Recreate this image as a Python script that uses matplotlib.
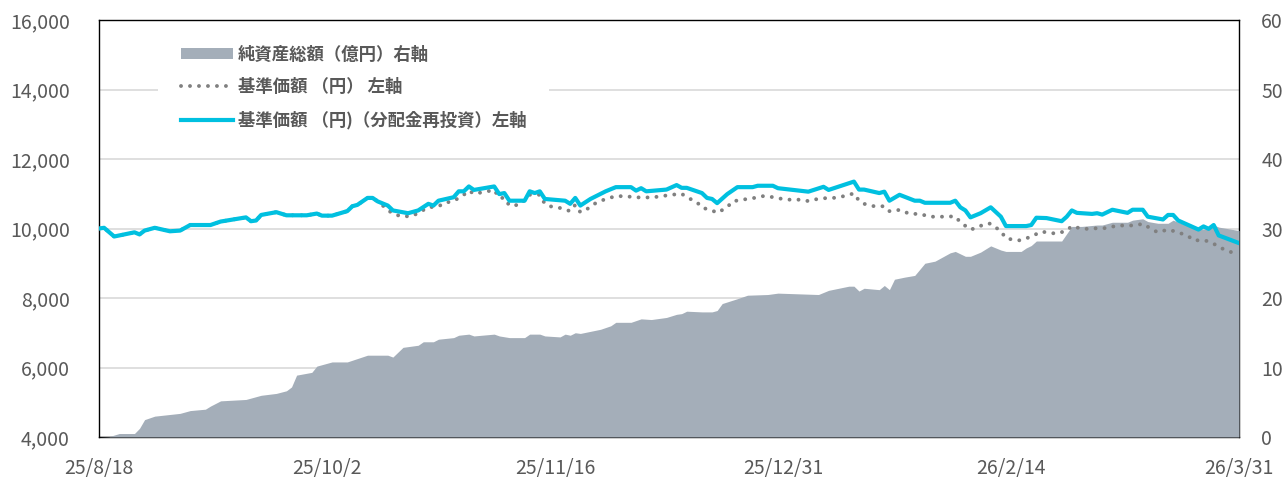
#!/usr/bin/env python3
"""基準価額・純資産総額の推移チャート"""

import numpy as np
import pandas as pd
import matplotlib
matplotlib.use("Agg")
import matplotlib.pyplot as plt
from matplotlib.patches import Patch
from matplotlib.lines import Line2D

plt.rcParams["font.family"] = ["Noto Sans CJK JP", "DejaVu Sans"]

# 基準価額（分配金再投資）
reinv_dates = [
    "2025-08-18", "2025-08-19", "2025-08-21", "2025-08-25", "2025-08-26", "2025-08-27",
    "2025-08-29", "2025-09-01", "2025-09-03", "2025-09-05", "2025-09-09", "2025-09-11",
    "2025-09-16", "2025-09-17", "2025-09-18", "2025-09-19", "2025-09-22", "2025-09-24",
    "2025-09-28", "2025-09-30", "2025-10-01", "2025-10-03", "2025-10-06", "2025-10-07",
    "2025-10-08", "2025-10-10", "2025-10-11", "2025-10-12", "2025-10-14", "2025-10-15",
    "2025-10-18", "2025-10-20", "2025-10-22", "2025-10-23", "2025-10-24", "2025-10-27",
    "2025-10-28", "2025-10-29", "2025-10-30", "2025-10-31", "2025-11-04", "2025-11-05",
    "2025-11-06", "2025-11-07", "2025-11-10", "2025-11-11", "2025-11-12", "2025-11-13",
    "2025-11-14", "2025-11-18", "2025-11-19", "2025-11-20", "2025-11-21", "2025-11-23",
    "2025-11-26", "2025-11-28", "2025-12-01", "2025-12-02", "2025-12-03", "2025-12-04",
    "2025-12-08", "2025-12-10", "2025-12-11", "2025-12-12", "2025-12-15", "2025-12-16",
    "2025-12-17", "2025-12-18", "2025-12-20", "2025-12-22", "2025-12-25", "2025-12-26",
    "2025-12-29", "2025-12-30", "2026-01-05", "2026-01-08", "2026-01-09", "2026-01-14",
    "2026-01-15", "2026-01-16", "2026-01-19", "2026-01-20", "2026-01-21", "2026-01-23",
    "2026-01-26", "2026-01-27", "2026-01-28", "2026-02-02", "2026-02-03", "2026-02-04",
    "2026-02-05", "2026-02-06", "2026-02-08", "2026-02-10", "2026-02-12", "2026-02-13",
    "2026-02-17", "2026-02-18", "2026-02-19", "2026-02-21", "2026-02-24", "2026-02-25",
    "2026-02-26", "2026-02-27", "2026-03-02", "2026-03-03", "2026-03-04", "2026-03-06",
    "2026-03-09", "2026-03-10", "2026-03-12", "2026-03-13", "2026-03-16", "2026-03-17",
    "2026-03-18", "2026-03-19", "2026-03-23", "2026-03-24", "2026-03-25", "2026-03-26",
    "2026-03-27", "2026-03-31",
]
reinv_nav = [
    10000, 10020, 9770, 9890, 9830, 9940,
    10020, 9920, 9940, 10100, 10100, 10200,
    10320, 10210, 10230, 10390, 10470, 10380,
    10380, 10430, 10370, 10370, 10500, 10640,
    10680, 10880, 10880, 10780, 10660, 10520,
    10440, 10520, 10710, 10660, 10800, 10900,
    11070, 11070, 11210, 11110, 11210, 10990,
    11020, 10800, 10800, 11070, 11020, 11070,
    10850, 10800, 10710, 10880, 10660, 10850,
    11070, 11190, 11190, 11090, 11160, 11070,
    11120, 11250, 11170, 11170, 11020, 10880,
    10850, 10730, 10990, 11190, 11190, 11230,
    11230, 11160, 11060, 11200, 11110, 11350,
    11120, 11120, 11020, 11060, 10800, 10970,
    10800, 10800, 10740, 10740, 10800, 10610,
    10520, 10320, 10440, 10610, 10340, 10070,
    10070, 10100, 10310, 10300, 10210, 10340,
    10520, 10450, 10420, 10440, 10400, 10540,
    10450, 10540, 10540, 10340, 10260, 10390,
    10390, 10230, 9970, 10060, 9990, 10100,
    9800, 9580,
]

# 基準価額（円）
nav_dates = [
    "2025-08-18", "2025-08-19", "2025-08-21", "2025-08-25", "2025-08-26", "2025-08-27",
    "2025-08-29", "2025-09-01", "2025-09-03", "2025-09-05", "2025-09-09", "2025-09-11",
    "2025-09-16", "2025-09-17", "2025-09-18", "2025-09-19", "2025-09-22", "2025-09-24",
    "2025-09-28", "2025-09-30", "2025-10-01", "2025-10-03", "2025-10-06", "2025-10-07",
    "2025-10-08", "2025-10-10", "2025-10-11", "2025-10-12", "2025-10-15", "2025-10-17",
    "2025-10-19", "2025-10-20", "2025-10-22", "2025-10-24", "2025-10-25", "2025-10-27",
    "2025-10-29", "2025-10-30", "2025-10-31", "2025-11-02", "2025-11-04", "2025-11-05",
    "2025-11-06", "2025-11-07", "2025-11-09", "2025-11-11", "2025-11-13", "2025-11-14",
    "2025-11-15", "2025-11-17", "2025-11-19", "2025-11-20", "2025-11-21", "2025-11-23",
    "2025-11-24", "2025-11-26", "2025-11-28", "2025-11-30", "2025-12-02", "2025-12-03",
    "2025-12-05", "2025-12-07", "2025-12-09", "2025-12-11", "2025-12-12", "2025-12-14",
    "2025-12-15", "2025-12-17", "2025-12-18", "2025-12-20", "2025-12-21", "2025-12-23",
    "2025-12-25", "2025-12-27", "2025-12-28", "2025-12-30", "2026-01-01", "2026-01-03",
    "2026-01-05", "2026-01-06", "2026-01-08", "2026-01-10", "2026-01-12", "2026-01-14",
    "2026-01-15", "2026-01-16", "2026-01-18", "2026-01-20", "2026-01-21", "2026-01-22",
    "2026-01-23", "2026-01-25", "2026-01-27", "2026-01-29", "2026-01-31", "2026-02-01",
    "2026-02-03", "2026-02-04", "2026-02-06", "2026-02-07", "2026-02-09", "2026-02-10",
    "2026-02-12", "2026-02-13", "2026-02-15", "2026-02-16", "2026-02-18", "2026-02-20",
    "2026-02-21", "2026-02-23", "2026-02-25", "2026-02-26", "2026-02-28", "2026-03-02",
    "2026-03-03", "2026-03-05", "2026-03-07", "2026-03-09", "2026-03-11", "2026-03-12",
    "2026-03-14", "2026-03-15", "2026-03-17", "2026-03-19", "2026-03-21", "2026-03-22",
    "2026-03-24", "2026-03-25", "2026-03-26", "2026-03-28", "2026-03-30", "2026-03-31",
]
nav = [
    10000, 10020, 9770, 9890, 9830, 9940,
    10020, 9920, 9940, 10100, 10100, 10200,
    10320, 10210, 10230, 10390, 10470, 10380,
    10380, 10430, 10370, 10370, 10500, 10640,
    10680, 10880, 10880, 10780, 10420, 10340,
    10370, 10450, 10610, 10630, 10730, 10790,
    10970, 11090, 11000, 11050, 11110, 10880,
    10880, 10660, 10680, 10970, 10970, 10710,
    10640, 10590, 10500, 10680, 10470, 10610,
    10730, 10850, 10930, 10930, 10890, 10900,
    10890, 10930, 10970, 11000, 10900, 10760,
    10600, 10520, 10450, 10610, 10780, 10830,
    10870, 10930, 10930, 10870, 10830, 10830,
    10790, 10830, 10870, 10880, 10930, 11010,
    10800, 10710, 10640, 10640, 10500, 10500,
    10540, 10420, 10420, 10340, 10340, 10340,
    10350, 10180, 9970, 10010, 10140, 10140,
    9920, 9720, 9660, 9660, 9770, 9910,
    9890, 9850, 9940, 10070, 9990, 9990,
    10010, 10010, 10090, 10080, 10100, 10140,
    9960, 9890, 9970, 9890, 9780, 9660,
    9660, 9630, 9560, 9400, 9290, 9250,
]

# 純資産総額（億円）
aum_dates = [
    "2025-08-18", "2025-08-20", "2025-08-22", "2025-08-25", "2025-08-26", "2025-08-27",
    "2025-08-29", "2025-09-03", "2025-09-05", "2025-09-08", "2025-09-09", "2025-09-11",
    "2025-09-16", "2025-09-19", "2025-09-22", "2025-09-24", "2025-09-25", "2025-09-26",
    "2025-09-29", "2025-09-30", "2025-10-03", "2025-10-06", "2025-10-10", "2025-10-14",
    "2025-10-15", "2025-10-17", "2025-10-20", "2025-10-21", "2025-10-23", "2025-10-24",
    "2025-10-27", "2025-10-28", "2025-10-30", "2025-10-31", "2025-11-04", "2025-11-05",
    "2025-11-07", "2025-11-10", "2025-11-11", "2025-11-13", "2025-11-14", "2025-11-17",
    "2025-11-18", "2025-11-19", "2025-11-20", "2025-11-21", "2025-11-25", "2025-11-27",
    "2025-11-28", "2025-12-01", "2025-12-03", "2025-12-05", "2025-12-08", "2025-12-10",
    "2025-12-11", "2025-12-12", "2025-12-15", "2025-12-17", "2025-12-18", "2025-12-19",
    "2025-12-22", "2025-12-24", "2025-12-28", "2025-12-30", "2026-01-07", "2026-01-09",
    "2026-01-13", "2026-01-14", "2026-01-15", "2026-01-16", "2026-01-19", "2026-01-20",
    "2026-01-21", "2026-01-22", "2026-01-24", "2026-01-26", "2026-01-28", "2026-01-30",
    "2026-01-31", "2026-02-02", "2026-02-03", "2026-02-05", "2026-02-06", "2026-02-08",
    "2026-02-10", "2026-02-12", "2026-02-13", "2026-02-16", "2026-02-17", "2026-02-18",
    "2026-02-19", "2026-02-24", "2026-02-26", "2026-02-28", "2026-03-03", "2026-03-04",
    "2026-03-06", "2026-03-09", "2026-03-10", "2026-03-12", "2026-03-13", "2026-03-15",
    "2026-03-17", "2026-03-18", "2026-03-19", "2026-03-23", "2026-03-25", "2026-03-26",
    "2026-03-27", "2026-03-31",
]
aum = [
    0.0, 0.05, 0.5, 0.5, 1.25, 2.5,
    3.0, 3.4, 3.8, 4.0, 4.45, 5.2,
    5.4, 6.0, 6.27, 6.65, 7.2, 8.9,
    9.3, 10.2, 10.8, 10.8, 11.77, 11.77,
    11.5, 12.9, 13.2, 13.7, 13.7, 14.07,
    14.3, 14.64, 14.8, 14.54, 14.8, 14.54,
    14.3, 14.3, 14.8, 14.8, 14.54, 14.4,
    14.8, 14.64, 15.0, 14.9, 15.5, 16.0,
    16.5, 16.5, 17.0, 16.9, 17.2, 17.65,
    17.75, 18.1, 18.0, 18.0, 18.2, 19.2,
    19.9, 20.4, 20.5, 20.7, 20.5, 21.1,
    21.7, 21.7, 21.0, 21.4, 21.2, 21.8,
    21.2, 22.7, 23.0, 23.25, 25.0, 25.3,
    25.7, 26.5, 26.7, 26.0, 26.0, 26.6,
    27.5, 26.9, 26.7, 26.7, 27.2, 27.55,
    28.2, 28.2, 30.3, 30.3, 30.5, 30.5,
    30.9, 30.9, 31.2, 31.4, 31.0, 30.75,
    30.75, 31.2, 30.9, 29.85, 30.0, 30.5,
    30.2, 29.7,
]

xtick_dates = ["2025-08-18", "2025-10-02", "2025-11-16", "2025-12-31", "2026-02-14", "2026-03-31"]
xtick_labels = ["25/8/18", "25/10/2", "25/11/16", "25/12/31", "26/2/14", "26/3/31"]
left_ticks = [4000, 6000, 8000, 10000, 12000, 14000, 16000]
right_ticks = [0, 10, 20, 30, 40, 50, 60]

AREA = "#a4aeb9"
CYAN = "#00c0e0"
DOT = "#808080"
TXT = "#595959"

fig = plt.figure(figsize=(12.83, 4.79), dpi=100)
ax = fig.add_axes([99 / 1283, 42 / 479, 1140 / 1283, 417 / 479])
ax2 = ax.twinx()
ax.set_zorder(2)
ax2.set_zorder(1)
ax.patch.set_visible(False)

# 右軸：純資産総額
ax2.fill_between(pd.to_datetime(aum_dates), aum, 0, color=AREA, lw=0, zorder=3)
ax2.set_ylim(0, 60)
ax2.set_yticks(right_ticks)
ax2.grid(True, axis="y", color="#d9d9d9", lw=1.2, zorder=0)
ax2.set_axisbelow(True)

# 左軸：基準価額
ax.plot(pd.to_datetime(nav_dates), nav, color=DOT, lw=2.8,
        linestyle=(0, (0.01, 2.3)), dash_capstyle="round", zorder=3)
ax.plot(pd.to_datetime(reinv_dates), reinv_nav, color=CYAN, lw=3.0, zorder=4)
ax.set_ylim(4000, 16000)
ax.set_yticks(left_ticks)
ax.set_yticklabels([f"{v:,}" for v in left_ticks])
ax.set_xlim(pd.Timestamp(xtick_dates[0]), pd.Timestamp(xtick_dates[-1]))
ax.set_xticks(pd.to_datetime(xtick_dates))
ax.set_xticklabels(xtick_labels)

for s in ax.spines.values():
    s.set_visible(False)
for s in ax2.spines.values():
    s.set_color("black")
    s.set_linewidth(1.0)
    s.set_zorder(2)

ax.tick_params(axis="y", length=0, pad=21, labelsize=14, labelcolor=TXT)
ax.tick_params(axis="x", length=0, pad=15, labelsize=14, labelcolor=TXT)
ax2.tick_params(axis="y", length=0, pad=16, labelsize=14, labelcolor=TXT)

handles = [
    Patch(facecolor=AREA, edgecolor="none"),
    Line2D([], [], color=DOT, lw=2.8, linestyle=(0, (0.01, 2.3)), dash_capstyle="round"),
    Line2D([], [], color=CYAN, lw=3.0),
]
labels = ["純資産総額（億円）右軸", "基準価額 （円） 左軸", "基準価額 （円)（分配金再投資）左軸"]
leg = ax.legend(handles, labels, loc="upper left", bbox_to_anchor=(0.052, 0.993),
                frameon=True, facecolor="white", edgecolor="none", framealpha=1,
                fancybox=False, handlelength=3.0, handleheight=0.6, handletextpad=0.3,
                labelspacing=0.85, borderpad=1.3, borderaxespad=0,
                prop={"size": 12.5, "weight": "bold"})
for t in leg.get_texts():
    t.set_color(TXT)

fig.savefig("out.png", dpi=100)
